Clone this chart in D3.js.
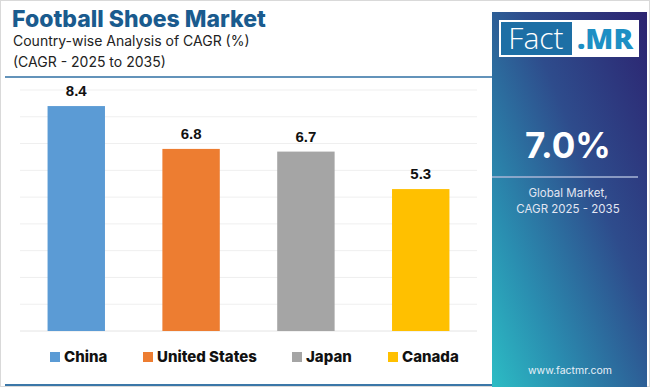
<!doctype html>
<html>
<head>
<meta charset="UTF-8">
<title>Football Shoes Market</title>
<script src="https://d3js.org/d3.v7.min.js"></script>
<style>
  body { margin: 0; background: #fff; }
  svg { display: block; }
</style>
</head>
<body>
<svg id="chart" width="650" height="387"></svg>
<script>
// data
var countries = ["China", "United States", "Japan", "Canada"];
var cagr = [8.4, 6.8, 6.7, 5.3];
var colors = ["#5b9bd5", "#ed7d31", "#a5a5a5", "#ffc000"];
var yTicks = [0, 1, 2, 3, 4, 5, 6, 7, 8, 9];
var globalCagr = "7.0%";

var svg = d3.select("#chart");
var W = 650, H = 387;

// outer frame
svg.append("rect").attr("x", 0.5).attr("y", 0.5).attr("width", W - 1).attr("height", H - 1)
   .attr("fill", "#fff").attr("stroke", "#d9d9d9");

// right panel gradient
var defs = svg.append("defs");
var grad = defs.append("linearGradient").attr("id", "panel")
   .attr("x1", "100%").attr("y1", "0%").attr("x2", "0%").attr("y2", "100%");
grad.append("stop").attr("offset", "0%").attr("stop-color", "#2c2370");
grad.append("stop").attr("offset", "40%").attr("stop-color", "#2e4c8c");
grad.append("stop").attr("offset", "75%").attr("stop-color", "#2a8db0");
grad.append("stop").attr("offset", "100%").attr("stop-color", "#2cbcc4");

svg.append("rect").attr("x", 492).attr("y", 12).attr("width", 155).attr("height", H - 12)
   .attr("fill", "url(#panel)");

// logo
svg.append("rect").attr("x", 499).attr("y", 20).attr("width", 140).attr("height", 37).attr("fill", "#fff");
svg.append("rect").attr("x", 501).attr("y", 22).attr("width", 71).attr("height", 33).attr("fill", "#1d6fa5");
svg.append("text").attr("x", 536).attr("y", 49).attr("text-anchor", "middle")
   .attr("font-family", "Open Sans, sans-serif").attr("font-weight", 300).attr("font-size", 30).attr("fill", "#fff")
   .text("Fact");
svg.append("text").attr("x", 605).attr("y", 49).attr("text-anchor", "middle")
   .attr("font-family", "Open Sans, sans-serif").attr("font-weight", 800).attr("font-size", 29).attr("fill", "#1d8fc4")
   .text(".MR");

// global figure
svg.append("text").attr("x", 568).attr("y", 158).attr("text-anchor", "middle")
   .attr("font-family", "Inter, sans-serif").attr("font-weight", 700).attr("font-size", 35).attr("fill", "#fff")
   .text(globalCagr);
svg.append("line").attr("x1", 492).attr("x2", 638).attr("y1", 177).attr("y2", 177)
   .attr("stroke", "#a9b6d6").attr("stroke-width", 1.5);
svg.append("text").attr("x", 568).attr("y", 197).attr("text-anchor", "middle")
   .attr("font-family", "Inter, sans-serif").attr("font-size", 11.5).attr("fill", "#e2e6f2")
   .text("Global Market,");
svg.append("text").attr("x", 568).attr("y", 213).attr("text-anchor", "middle")
   .attr("font-family", "Inter, sans-serif").attr("font-size", 11.5).attr("fill", "#e2e6f2")
   .text("CAGR 2025 - 2035");
svg.append("text").attr("x", 570).attr("y", 374).attr("text-anchor", "middle")
   .attr("font-family", "Inter, sans-serif").attr("font-size", 10.5).attr("fill", "#e8f0f8")
   .text("www.factmr.com");

// titles
svg.append("text").attr("x", 12).attr("y", 27)
   .attr("font-family", "Inter, sans-serif").attr("font-weight", 800).attr("font-size", 23).attr("fill", "#1a5b8e")
   .text("Football Shoes Market");
svg.append("text").attr("x", 13).attr("y", 46)
   .attr("font-family", "Inter, sans-serif").attr("font-size", 14).attr("fill", "#222")
   .text("Country-wise Analysis of CAGR (%)");
svg.append("text").attr("x", 13).attr("y", 67)
   .attr("font-family", "Inter, sans-serif").attr("font-size", 14).attr("fill", "#222")
   .text("(CAGR - 2025 to 2035)");
svg.append("line").attr("x1", 5).attr("x2", 492).attr("y1", 77).attr("y2", 77)
   .attr("stroke", "#2f6fa3").attr("stroke-width", 1.5);

// bottom accent line
svg.append("line").attr("x1", 5).attr("x2", 492).attr("y1", 385).attr("y2", 385)
   .attr("stroke", "#3b77a8").attr("stroke-width", 2);

// scales
var x = d3.scaleBand().domain(countries).range([20, 477]).paddingInner(0.5).paddingOuter(0.24);
var y = d3.scaleLinear().domain([0, 9]).range([331, 90]);

// gridlines
svg.append("g").selectAll("line").data(yTicks).enter().append("line")
   .attr("x1", 20).attr("x2", 477)
   .attr("y1", function(d){ return y(d); })
   .attr("y2", function(d){ return y(d); })
   .attr("stroke", function(d){ return d === 0 ? "#e4e4e4" : "#efefef"; })
   .attr("stroke-width", 1);

// bars
svg.append("g").selectAll("rect").data(cagr).enter().append("rect")
   .attr("x", function(d, i){ return x(countries[i]); })
   .attr("y", function(d){ return y(d); })
   .attr("width", x.bandwidth())
   .attr("height", function(d){ return y(0) - y(d); })
   .attr("fill", function(d, i){ return colors[i]; });

// value labels
svg.append("g").selectAll("text").data(cagr).enter().append("text")
   .attr("x", function(d, i){ return x(countries[i]) + x.bandwidth() / 2; })
   .attr("y", function(d){ return y(d) - 10; })
   .attr("text-anchor", "middle")
   .attr("font-family", "Liberation Sans, Arial, sans-serif")
   .attr("font-weight", 700).attr("font-size", 15).attr("fill", "#111")
   .text(function(d){ return d.toFixed(1); });

// legend
var legendX = [50, 143, 292, 388];
var lg = svg.append("g").selectAll("g").data(countries).enter().append("g")
   .attr("transform", function(d, i){ return "translate(" + legendX[i] + ",352)"; });
lg.append("rect").attr("width", 10).attr("height", 10)
   .attr("fill", function(d, i){ return colors[i]; });
lg.append("text").attr("x", 14).attr("y", 10)
   .attr("font-family", "Inter, sans-serif").attr("font-weight", 800).attr("font-size", 15).attr("fill", "#111")
   .text(function(d){ return d; });
</script>
</body>
</html>
